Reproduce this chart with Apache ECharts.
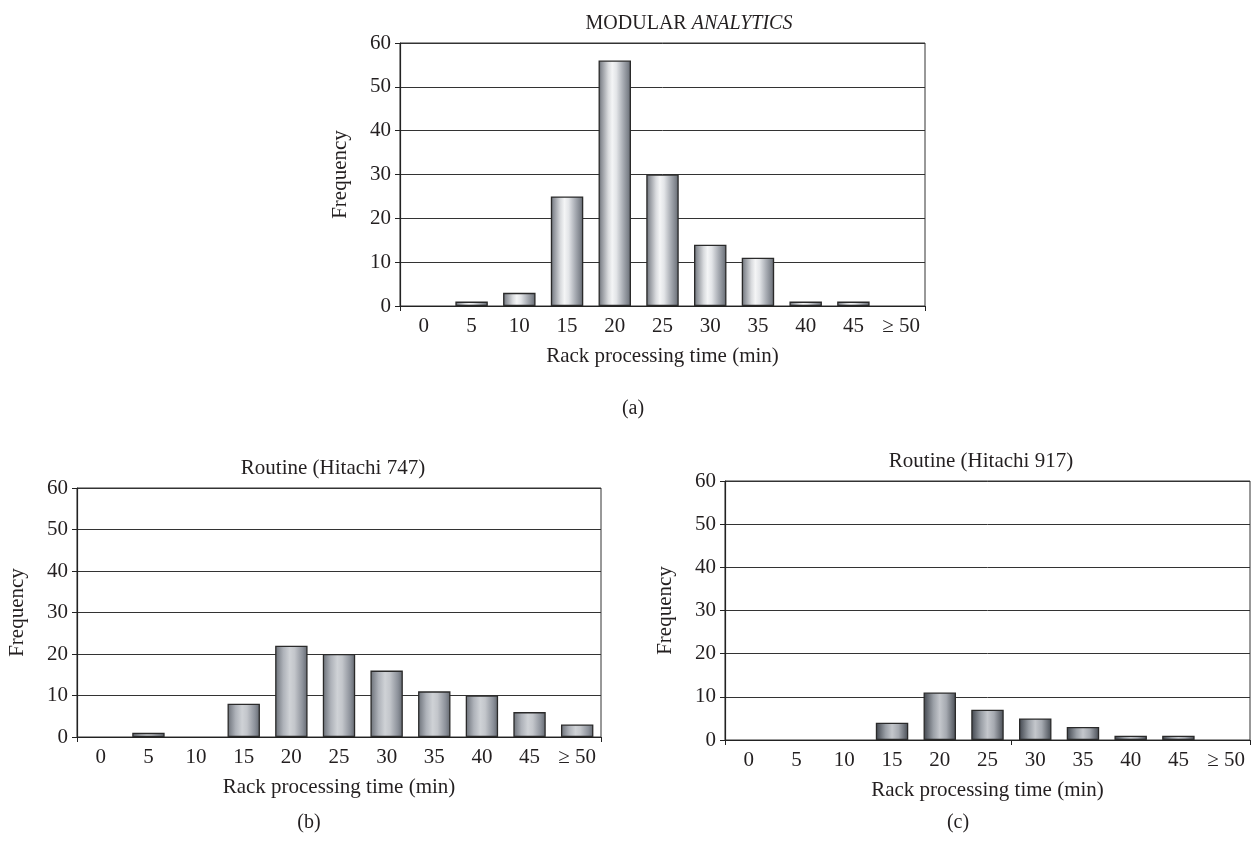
<!DOCTYPE html>
<html>
<head>
<meta charset="utf-8">
<script src="https://cdn.jsdelivr.net/npm/echarts@6/dist/echarts.min.js"></script>
<style>
html,body{margin:0;padding:0;background:#fff;}
#chart{width:1252px;height:845px;}
</style>
</head>
<body>
<div id="chart"></div>
<script>
// ---- data ----
const categories = ['0', '5', '10', '15', '20', '25', '30', '35', '40', '45', '\u2265 50'];
const modularValues = [0, 1, 3, 25, 56, 30, 14, 11, 1, 1, 0];
const hitachi747Values = [0, 1, 0, 8, 22, 20, 16, 11, 10, 6, 3];
const hitachi917Values = [0, 0, 0, 4, 11, 7, 5, 3, 1, 1, 0];
const yTicks = { min: 0, max: 60, interval: 10 };
const xAxisTitle = 'Rack processing time (min)';
const yAxisTitle = 'Frequency';

const FONT = '"Liberation Serif", "DejaVu Serif", serif';
const TXT = '#231f20';

function grad(stops) {
  return new echarts.graphic.LinearGradient(0, 0, 1, 0,
    stops.map(s => ({ offset: s[0], color: s[1] })));
}
const fillA = grad([[0,'#5d6168'],[0.08,'#8a8e95'],[0.3,'#d9dbde'],[0.42,'#f4f5f6'],[0.55,'#e3e5e8'],[0.75,'#a9adb4'],[0.92,'#7b8088'],[1,'#5a5f66']]);
const fillB = grad([[0,'#6a6f77'],[0.25,'#aeb2b9'],[0.45,'#cfd2d6'],[0.6,'#c3c6cb'],[0.85,'#8c919a'],[1,'#62676f']]);
const fillC = grad([[0,'#3f444c'],[0.3,'#9a9fa6'],[0.5,'#c4c7cc'],[0.7,'#a6aab1'],[1,'#474c54']]);

const grids = [
  { left: 400, top: 43, width: 525, height: 263 },
  { left: 77, top: 488, width: 524, height: 249 },
  { left: 725, top: 481, width: 525, height: 259 }
];

function xAx(i, tickIdx) {
  return {
    type: 'category', gridIndex: i, data: categories,
    axisLine: { lineStyle: { color: '#222', width: 1.2 } },
    axisTick: { show: true, length: 5, interval: (idx) => tickIdx.indexOf(idx) >= 0, lineStyle: { color: '#222' } },
    axisLabel: { interval: 0, color: TXT, fontFamily: FONT, fontSize: 21, margin: 10 },
    name: xAxisTitle, nameLocation: 'middle', nameGap: 40,
    nameTextStyle: { color: TXT, fontFamily: FONT, fontSize: 21 }
  };
}
function yAx(i) {
  return {
    type: 'value', gridIndex: i, min: yTicks.min, max: yTicks.max, interval: yTicks.interval,
    axisLine: { show: true, lineStyle: { color: '#222', width: 1.2 } },
    axisTick: { show: true, length: 5, lineStyle: { color: '#222' } },
    axisLabel: { color: TXT, fontFamily: FONT, fontSize: 21, margin: 9 },
    splitLine: { lineStyle: { color: '#333', width: 1 } },
    name: yAxisTitle, nameLocation: 'middle', nameGap: 49, nameRotate: 90,
    nameTextStyle: { color: TXT, fontFamily: FONT, fontSize: 21 }
  };
}
function bar(i, values, fill) {
  return {
    type: 'bar', xAxisIndex: i, yAxisIndex: i,
    data: values.map(v => (v === 0 ? null : v)),
    barWidth: '68%',
    itemStyle: { color: fill, borderColor: '#2a2a2a', borderWidth: 1.3 },
    silent: true
  };
}

const chart = echarts.init(document.getElementById('chart'), null, { renderer: 'canvas' });
chart.setOption({
  backgroundColor: '#fff',
  animation: false,
  grid: grids.map(g => Object.assign({ show: true, borderColor: '#333', borderWidth: 1, backgroundColor: 'transparent' }, g)),
  xAxis: [xAx(0, [0]), xAx(1, [0]), xAx(2, [0, 6])],
  yAxis: [yAx(0), yAx(1), yAx(2)],
  series: [bar(0, modularValues, fillA), bar(1, hitachi747Values, fillB), bar(2, hitachi917Values, fillC)],
  title: [
    { text: '{n|MODULAR }{i|ANALYTICS}', left: 684, top: 9, textAlign: 'center',
      textStyle: { fontWeight: 'normal', rich: {
        n: { fontFamily: FONT, fontSize: 20, color: TXT, fontWeight: 'normal' },
        i: { fontFamily: FONT, fontSize: 20, color: TXT, fontStyle: 'italic', fontWeight: 'normal' } } } },
    { text: 'Routine (Hitachi 747)', left: 328, top: 453, textAlign: 'center',
      textStyle: { fontFamily: FONT, fontSize: 21, fontWeight: 'normal', color: TXT } },
    { text: 'Routine (Hitachi 917)', left: 976, top: 446, textAlign: 'center',
      textStyle: { fontFamily: FONT, fontSize: 21, fontWeight: 'normal', color: TXT } },
    { text: '(a)', left: 628, top: 394, textAlign: 'center',
      textStyle: { fontFamily: FONT, fontSize: 20, fontWeight: 'normal', color: TXT } },
    { text: '(b)', left: 304, top: 808, textAlign: 'center',
      textStyle: { fontFamily: FONT, fontSize: 20, fontWeight: 'normal', color: TXT } },
    { text: '(c)', left: 953, top: 808, textAlign: 'center',
      textStyle: { fontFamily: FONT, fontSize: 20, fontWeight: 'normal', color: TXT } }
  ]
});
</script>
</body>
</html>
